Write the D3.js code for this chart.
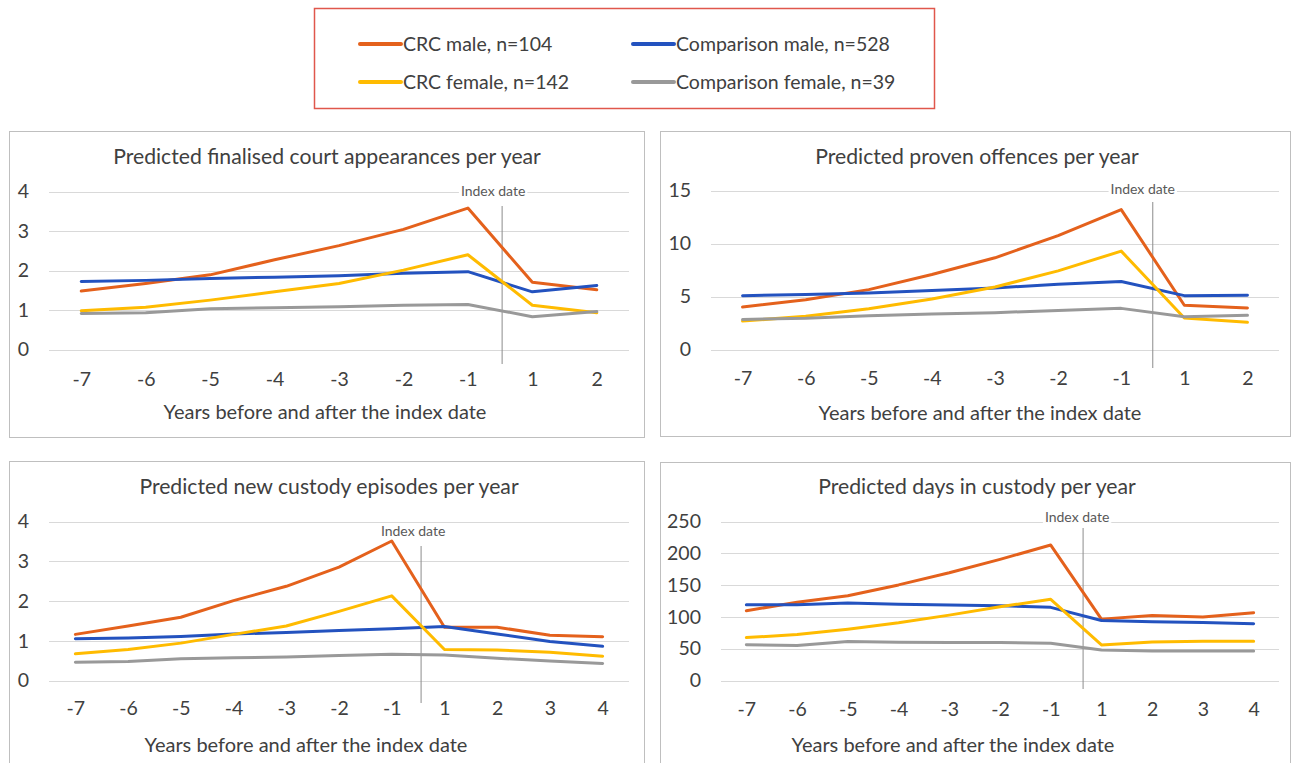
<!DOCTYPE html>
<html>
<head>
<meta charset="utf-8">
<script src="https://cdn.jsdelivr.net/npm/d3@7"></script>
<style>
  html, body { margin: 0; padding: 0; background: #ffffff; }
  svg { display: block; }
  text { font-family: Lato, "Open Sans", sans-serif; }
</style>
</head>
<body>
<script>
// ---------------- DATA ----------------
const seriesNames = ["CRC male, n=104", "Comparison male, n=528", "CRC female, n=142", "Comparison female, n=39"];

const yearsShort = ["-7", "-6", "-5", "-4", "-3", "-2", "-1", "1", "2"];
const yearsLong  = ["-7", "-6", "-5", "-4", "-3", "-2", "-1", "1", "2", "3", "4"];

// Predicted finalised court appearances per year
const courtCrcMale    = [1.48, 1.67, 1.89, 2.27, 2.63, 3.04, 3.58, 1.70, 1.51];
const courtCompMale   = [1.72, 1.75, 1.80, 1.83, 1.87, 1.93, 1.97, 1.46, 1.62];
const courtCrcFemale  = [0.98, 1.07, 1.25, 1.46, 1.67, 2.01, 2.40, 1.12, 0.93];
const courtCompFemale = [0.91, 0.93, 1.03, 1.06, 1.08, 1.12, 1.14, 0.83, 0.96];
const courtTicks = [0, 1, 2, 3, 4];

// Predicted proven offences per year
const offCrcMale    = [4.01, 4.70, 5.65, 7.07, 8.65, 10.74, 13.20, 4.17, 3.92];
const offCompMale   = [5.08, 5.18, 5.34, 5.56, 5.81, 6.16, 6.41, 5.08, 5.12];
const offCrcFemale  = [2.68, 3.13, 3.85, 4.77, 5.90, 7.42, 9.28, 2.97, 2.56];
const offCompFemale = [2.84, 2.94, 3.19, 3.35, 3.47, 3.69, 3.88, 3.09, 3.22];
const offTicks = [0, 5, 10, 15];

// Predicted new custody episodes per year
const epiCrcMale    = [1.16, 1.37, 1.59, 2.01, 2.37, 2.85, 3.51, 1.34, 1.34, 1.14, 1.10];
const epiCompMale   = [1.05, 1.07, 1.11, 1.17, 1.21, 1.26, 1.30, 1.36, 1.17, 0.98, 0.86];
const epiCrcFemale  = [0.67, 0.78, 0.94, 1.16, 1.37, 1.74, 2.13, 0.78, 0.77, 0.71, 0.61];
const epiCompFemale = [0.46, 0.48, 0.55, 0.57, 0.59, 0.63, 0.66, 0.64, 0.56, 0.49, 0.43];
const epiTicks = [0, 1, 2, 3, 4];

// Predicted days in custody per year
const daysCrcMale    = [109.7, 122.9, 133.4, 150.3, 169.3, 190.4, 213.0, 96.5, 102.3, 99.7, 106.5];
const daysCompMale   = [119.2, 119.2, 121.8, 119.7, 118.7, 117.6, 115.0, 94.4, 92.3, 91.2, 89.1];
const daysCrcFemale  = [67.5, 72.3, 80.7, 90.7, 102.8, 116.0, 127.6, 55.9, 60.7, 61.7, 61.7];
const daysCompFemale = [56.4, 54.9, 61.2, 60.1, 59.6, 59.6, 58.5, 48.0, 46.4, 46.4, 46.4];
const daysTicks = [0, 50, 100, 150, 200, 250];

const panelTitles = [
  "Predicted finalised court appearances per year",
  "Predicted proven offences per year",
  "Predicted new custody episodes per year",
  "Predicted days in custody per year"
];
const xAxisTitle = "Years before and after the index date";
const indexLabel = "Index date";

// ---------------- STYLE / LAYOUT ----------------
const seriesColors = ["#E4611C", "#2352BF", "#FFBB00", "#999999"];
const textColor = "#404040";
const gridColor = "#d9d9d9";
const borderColor = "#bfbfbf";
const fontFam = "Lato, 'Open Sans', sans-serif";

const panels = [
  { title: panelTitles[0], cats: yearsShort, ticks: courtTicks,
    series: [courtCrcMale, courtCompMale, courtCrcFemale, courtCompFemale],
    box: [9.5, 131.5, 644.5, 437.5], px: [49, 629], py: [349.5, 191.5],
    titleX: 327, titleY: 157, axTitleX: 325, axTitleY: 412, tickY: 379,
    idxDx: 2, idxY: [206, 364], idxLabelDx: -9, idxLabelY: 191 },
  { title: panelTitles[1], cats: yearsShort, ticks: offTicks,
    series: [offCrcMale, offCompMale, offCrcFemale, offCompFemale],
    box: [660.5, 131.5, 1290.5, 436.5], px: [711, 1279], py: [349.5, 190.5],
    titleX: 977, titleY: 157, axTitleX: 980, axTitleY: 413, tickY: 378,
    idxDx: 0, idxY: [202, 368], idxLabelDx: -10, idxLabelY: 189 },
  { title: panelTitles[2], cats: yearsLong, ticks: epiTicks,
    series: [epiCrcMale, epiCompMale, epiCrcFemale, epiCompFemale],
    box: [9.5, 461.5, 644.5, 775], px: [49, 629], py: [680.5, 521.5],
    titleX: 329, titleY: 487, axTitleX: 306, axTitleY: 745, tickY: 708,
    idxDx: 3, idxY: [546, 703], idxLabelDx: -8, idxLabelY: 531 },
  { title: panelTitles[3], cats: yearsLong, ticks: daysTicks,
    series: [daysCrcMale, daysCompMale, daysCrcFemale, daysCompFemale],
    box: [660.5, 462.5, 1290.5, 775], px: [721, 1279], py: [680.5, 521.5],
    titleX: 977, titleY: 487, axTitleX: 953, axTitleY: 745, tickY: 709,
    idxDx: 7, idxY: [528, 689], idxLabelDx: -6, idxLabelY: 517 }
];

// ---------------- DRAW ----------------
const svg = d3.select("body").append("svg")
  .attr("width", 1292).attr("height", 763);

svg.append("rect").attr("width", 1292).attr("height", 763).attr("fill", "#ffffff");

// Legend
const legend = svg.append("g");
legend.append("rect")
  .attr("x", 314.5).attr("y", 8.5).attr("width", 620).attr("height", 100)
  .attr("fill", "#ffffff").attr("stroke", "#E0574C").attr("stroke-width", 1.5);

const legendPos = [[360, 44], [633, 44], [360, 82], [633, 82]];
seriesNames.forEach((name, i) => {
  const [lx, ly] = legendPos[i];
  legend.append("line")
    .attr("x1", lx).attr("x2", lx + 41).attr("y1", ly).attr("y2", ly)
    .attr("stroke", seriesColors[i]).attr("stroke-width", 4).attr("stroke-linecap", "round");
  legend.append("text")
    .attr("x", lx + 43).attr("y", ly).attr("dy", "0.35em")
    .attr("font-size", 19.5).attr("fill", textColor)
    .text(name);
});

panels.forEach(p => {
  const g = svg.append("g");
  // border
  g.append("rect")
    .attr("x", p.box[0]).attr("y", p.box[1])
    .attr("width", p.box[2] - p.box[0]).attr("height", p.box[3] - p.box[1])
    .attr("fill", "#ffffff").attr("stroke", borderColor).attr("stroke-width", 1);

  const x = d3.scalePoint().domain(p.cats).range(p.px).padding(0.5);
  const yMax = p.ticks[p.ticks.length - 1];
  const y = d3.scaleLinear().domain([0, yMax]).range(p.py);

  // gridlines
  g.append("g").selectAll("line").data(p.ticks).join("line")
    .attr("x1", p.px[0]).attr("x2", p.px[1])
    .attr("y1", d => Math.round(y(d)) + 0.5).attr("y2", d => Math.round(y(d)) + 0.5)
    .attr("stroke", gridColor).attr("stroke-width", 1);

  // y axis labels
  const yAxis = d3.axisLeft(y).tickValues(p.ticks).tickFormat(d3.format("d")).tickSize(0).tickPadding(20);
  const ya = g.append("g").attr("transform", `translate(${p.px[0]},0)`).call(yAxis);
  ya.select(".domain").remove();
  ya.selectAll("text").attr("font-size", 19.5).attr("fill", textColor)
    .attr("font-family", fontFam);

  // x axis labels
  const xAxis = d3.axisBottom(x).tickSize(0).tickPadding(0);
  const xa = g.append("g").attr("transform", `translate(0,${p.tickY})`).call(xAxis);
  xa.select(".domain").remove();
  xa.selectAll("text").attr("font-size", 19.5).attr("fill", textColor)
    .attr("dy", "0.35em").attr("y", 0)
    .attr("font-family", fontFam);

  // index date line + label (with white background)
  const bx = (x("-1") + x("1")) / 2 + p.idxDx;
  g.append("line")
    .attr("x1", bx).attr("x2", bx).attr("y1", p.idxY[0]).attr("y2", p.idxY[1])
    .attr("stroke", "#8c8c8c").attr("stroke-width", 1);
  const bg = g.append("rect").attr("fill", "#ffffff");
  const lbl = g.append("text")
    .attr("x", bx + p.idxLabelDx).attr("y", p.idxLabelY).attr("dy", "0.35em")
    .attr("text-anchor", "middle").attr("font-size", 14).attr("fill", "#595959")
    .text(indexLabel);
  const bb = lbl.node().getBBox();
  bg.attr("x", bb.x - 2).attr("y", bb.y + 2).attr("width", bb.width + 4).attr("height", Math.max(0, bb.height - 4));

  // series lines
  const line = d3.line().x((d, i) => x(p.cats[i])).y(d => y(d));
  p.series.forEach((vals, i) => {
    g.append("path").datum(vals)
      .attr("d", line)
      .attr("fill", "none").attr("stroke", seriesColors[i])
      .attr("stroke-width", 3).attr("stroke-linejoin", "round").attr("stroke-linecap", "round");
  });

  // titles
  g.append("text")
    .attr("x", p.titleX).attr("y", p.titleY).attr("dy", "0.35em")
    .attr("text-anchor", "middle").attr("font-size", 21.2).attr("fill", textColor)
    .text(p.title);
  g.append("text")
    .attr("x", p.axTitleX).attr("y", p.axTitleY).attr("dy", "0.35em")
    .attr("text-anchor", "middle").attr("font-size", 20).attr("fill", textColor)
    .text(xAxisTitle);
});
</script>
</body>
</html>
